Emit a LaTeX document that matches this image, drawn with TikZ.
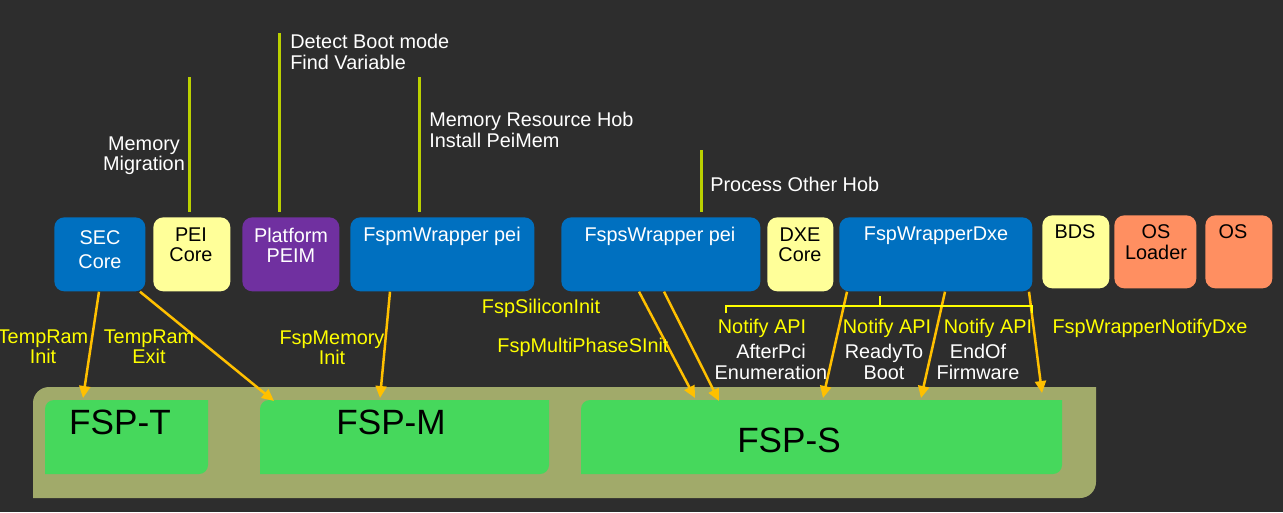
\documentclass[tikz,border=0pt]{standalone}
\usepackage{fontspec}
\setmainfont{Liberation Sans}
\usetikzlibrary{arrows.meta,calc}
\definecolor{bg}{RGB}{45,45,45}
\definecolor{cblue}{RGB}{0,112,192}
\definecolor{cpale}{RGB}{255,255,153}
\definecolor{cpurple}{RGB}{112,48,160}
\definecolor{corange}{RGB}{255,143,97}
\definecolor{cgreen}{RGB}{70,216,92}
\definecolor{colive}{RGB}{161,170,106}
\definecolor{cgold}{RGB}{255,192,0}
\definecolor{cyel}{RGB}{255,255,0}
\definecolor{clime}{RGB}{186,208,0}
\newcommand{\tlbrshape}[6]{% color, x1, y1, x2, y2, r
  \fill[#1] (#2,#5) -- (#2,#3+#6) arc[start angle=180,end angle=270,radius=#6]
    -- (#4,#3) -- (#4,#5-#6) arc[start angle=0,end angle=90,radius=#6] -- cycle;}
\begin{document}
\begin{tikzpicture}[x=0.02cm,y=-0.02cm,
  every node/.style={font=\fontsize{11.3}{11.6}\selectfont, inner sep=0pt},
  wh/.style 2 args={minimum width=#1*0.02cm,minimum height=#2*0.02cm},
  box/.style={rounded corners=0.2cm, anchor=north west},
  anchorbox/.style={anchor=north west, draw=none},
  wtext/.style={text=white, align=center},
  btext/.style={text=black, align=center},
  ytext/.style={text=cyel, align=center},
  fsptext/.style={text=black, font=\fontsize{20}{23}\selectfont},
  vline/.style={draw=clime, line width=0.06cm, shorten >=0.1cm},
  arr/.style={draw=cgold, line width=0.05cm, -{Triangle[length=0.24cm,width=0.22cm]}},
  brace/.style={draw=cyel, line width=0.04cm}
]
\fill[bg] (0,0) rectangle (1283,512);
\useasboundingbox (0,0) rectangle (1283,512);

% container
\tlbrshape{colive}{33}{387}{1096}{498}{16}
\node[anchorbox, wh={1063}{111}] (cont) at (33,387) {};

% FSP boxes
\tlbrshape{cgreen}{45}{400}{208}{474}{9}
\tlbrshape{cgreen}{260}{400}{549}{474}{9}
\tlbrshape{cgreen}{581}{400}{1062}{474}{9}
\node[anchorbox, wh={163}{74}] (fspT) at (45,400) {};
\node[anchorbox, wh={289}{74}] (fspM) at (260,400) {};
\node[anchorbox, wh={481}{74}] (fspS) at (581,400) {};
\node[fsptext] (fspTt) at (120,422) {FSP-T};
\node[fsptext] (fspMt) at (391,422) {FSP-M};
\node[fsptext] (fspSt) at (789,440) {FSP-S};

% top boxes
\node[box, fill=cblue, wh={91}{74}] (sec) at (54,217) {};
\node[box, fill=cpale, wh={77}{74}] (pei) at (153,217) {};
\node[box, fill=cpurple, wh={97}{74}] (plat) at (242,217) {};
\node[box, fill=cblue, wh={184}{74}] (fspm) at (350,217) {};
\node[box, fill=cblue, wh={199}{74}] (fsps) at (561,217) {};
\node[box, fill=cpale, wh={66}{74}] (dxe) at (767,217) {};
\node[box, fill=cblue, wh={193}{74}] (wdxe) at (839,217) {};
\node[box, fill=cpale, wh={67}{73}] (bds) at (1042,215) {};
\node[box, fill=corange, wh={82}{73}] (osl) at (1114,215) {};
\node[box, fill=corange, wh={67}{73}] (os) at (1205,215) {};

\node[wtext, font=\fontsize{11.3}{13.5}\selectfont] (secT) at (100,250) {SEC\\Core};
\node[btext] (peiT) at (191,245) {PEI\\Core};
\node[wtext] (platT) at (291,245) {Platform\\PEIM};
\node[wtext] (fspmT) at (442,236) {FspmWrapper pei};
\node[wtext] (fspsT) at (660,236) {FspsWrapper pei};
\node[btext] (dxeT) at (800,245) {DXE\\Core};
\node[wtext] (wdxeT) at (936,236) {FspWrapperDxe};
\node[btext] (bdsT) at (1075,232) {BDS};
\node[btext] (oslT) at (1156,242) {OS\\Loader};
\node[btext] (osT) at (1233,232) {OS};

% vertical lines and their labels
\coordinate (v1) at (189,77);
\coordinate (v2) at (279,33);
\coordinate (v3) at (419,77);
\coordinate (v4) at (701,150);
\draw[vline] (v1) -- (v1 |- pei.north);
\draw[vline] (v2) -- (v2 |- plat.north);
\draw[vline] (v3) -- (v3 |- fspm.north);
\draw[vline] (v4) -- (v4 |- fsps.north);
\node[wtext] (mm) at (144,156) {Memory\\Migration};
\node[wtext, align=left, anchor=west] (dbm) at (290,52) {Detect Boot mode\\Find Variable};
\node[wtext, align=left, anchor=west] (mrh) at (429,130) {Memory Resource Hob\\Install PeiMem};
\node[wtext, align=left, anchor=west] (poh) at (710,184) {Process Other Hob};

% arrows
\draw[arr] ($(sec.south west)+(45,0)$) -- ($(fspT.north west)+(38,-2)$);
\draw[arr] ($(sec.south west)+(86,0)$) -- ($(fspM.north west)+(14,1)$);
\draw[arr] ($(fspm.south west)+(40,0)$) -- ($(fspM.north west)+(120,-2)$);
\draw[arr] ($(fsps.south west)+(78,0)$) -- ($(fspS.north west)+(114,-2)$);
\draw[arr] ($(fsps.south west)+(103,0)$) -- ($(fspS.north west)+(138,1)$);
\draw[arr] ($(wdxe.south west)+(8,0)$) -- ($(fspS.north west)+(242,-2)$);
\draw[arr] ($(wdxe.south west)+(106,0)$) -- ($(fspS.north west)+(340,-2)$);
\draw[arr] ($(wdxe.south west)+(190,0)$) -- ($(fspS.north west)+(461,-7)$);

% brace
\draw[brace] (726,313) -- (726,306) -- (1032,306) -- (1032,313);
\draw[brace] (880,306) -- (880,296);

% yellow labels
\node[ytext] (tri) at (43,347) {TempRam\\Init};
\node[ytext] (tre) at (149,347) {TempRam\\Exit};
\node[ytext] (fmi) at (332,348) {FspMemory\\Init};
\node[ytext] (fsi) at (541,308) {FspSiliconInit};
\node[ytext] (fmp) at (583,347) {FspMultiPhaseSInit};
\node[ytext] (na1) at (762,328) {Notify API};
\node[ytext] (na2) at (887,328) {Notify API};
\node[ytext] (na3) at (988,328) {Notify API};
\node[ytext] (fwn) at (1150,328) {FspWrapperNotifyDxe};
\node[wtext] (apc) at (771,362) {AfterPci\\Enumeration};
\node[wtext] (rtb) at (884,362) {ReadyTo\\Boot};
\node[wtext] (eof) at (978,362) {EndOf\\Firmware};
\end{tikzpicture}
\end{document}
